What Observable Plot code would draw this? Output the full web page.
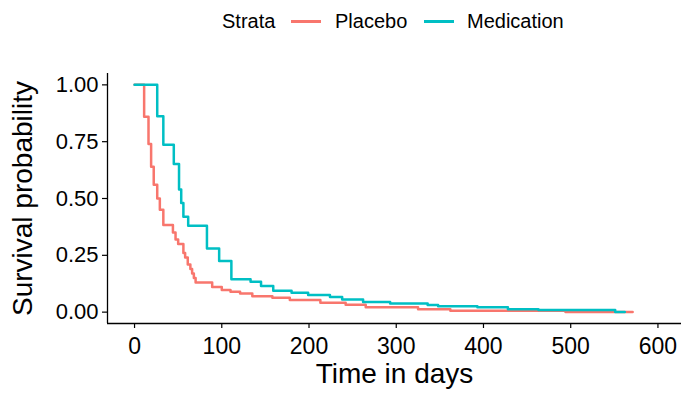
<!DOCTYPE html>
<html>
<head>
<meta charset="utf-8">
<script src="https://cdn.jsdelivr.net/npm/d3@7"></script>
<script src="https://cdn.jsdelivr.net/npm/@observablehq/plot@0.6"></script>
<style>
  html, body { margin: 0; padding: 0; background: #fff; }
  body { width: 681px; height: 398px; overflow: hidden; font-family: "Liberation Sans", Arial, sans-serif; }
  #legend { position: relative; width: 681px; height: 40px; font-size: 20px; color: #000; }
  #legend .t { position: absolute; top: 10px; line-height: 22px; white-space: nowrap; }
  #legend .k { position: absolute; top: 20px; width: 30px; height: 2.5px; }
  #chart svg { display: block; overflow: visible; }
</style>
</head>
<body>
<div id="legend"></div>
<div id="chart"></div>
<script>
// ---- data ----
const strataTitle = "Strata";
const groups = ["Placebo", "Medication"];
const colors = ["#F8766D", "#00BFC4"];

const placeboTime = [0, 11, 16, 19, 22, 26, 29, 33, 44, 47, 50, 56, 58, 61, 64, 66, 68, 70, 89, 100, 110, 121, 135, 158, 178, 213, 242, 265, 325, 362, 494, 571];
const placeboSurv = [1, 0.86, 0.74, 0.64, 0.56, 0.50, 0.45, 0.383, 0.35, 0.32, 0.30, 0.26, 0.24, 0.21, 0.19, 0.17, 0.15, 0.13, 0.111, 0.097, 0.09, 0.082, 0.07, 0.063, 0.053, 0.041, 0.032, 0.021, 0.013, 0.006, 0.001, 0.001];

const medTime = [0, 26, 33, 45, 51, 53.5, 56, 61.5, 83, 97, 111, 133, 145, 159, 180, 199, 224, 238, 262, 293, 336, 348, 393, 428, 463, 551, 562];
const medSurv = [1, 0.862, 0.737, 0.652, 0.54, 0.48, 0.42, 0.38, 0.28, 0.225, 0.145, 0.134, 0.115, 0.094, 0.085, 0.075, 0.067, 0.056, 0.045, 0.038, 0.031, 0.026, 0.021, 0.013, 0.009, 0.001, 0.001];

const xTicks = [0, 100, 200, 300, 400, 500, 600];
const yTicks = [0, 0.25, 0.5, 0.75, 1];
const xTitle = "Time in days";
const yTitle = "Survival probability";

// ---- build table ----
const rows = [];
placeboTime.forEach((t, i) => rows.push({group: groups[0], time: t, surv: placeboSurv[i]}));
medTime.forEach((t, i) => rows.push({group: groups[1], time: t, surv: medSurv[i]}));

const xDomain = [-31, 627];
const yDomain = [-0.05, 1.05];

const chart = Plot.plot({
  width: 681,
  height: 358,
  marginTop: 33,
  marginBottom: 75,
  marginLeft: 107,
  marginRight: 0,
  style: {fontFamily: "Liberation Sans, Arial, sans-serif", color: "#000", background: "#fff", overflow: "visible"},
  x: {domain: xDomain},
  y: {domain: yDomain},
  color: {domain: groups, range: colors},
  marks: [
    Plot.line(rows, {x: "time", y: "surv", z: "group", stroke: "group", curve: "step-after", strokeWidth: 2.5}),
    Plot.ruleX([xDomain[0]], {stroke: "#000", strokeWidth: 1.3}),
    Plot.ruleY([yDomain[0]], {stroke: "#000", strokeWidth: 1.3}),
    Plot.axisX({ticks: xTicks, tickSize: 5, tickPadding: 9, fontSize: 23, label: null, tickFormat: d3.format("d"), stroke: "#000", strokeWidth: 1.2}),
    Plot.axisY({ticks: yTicks, tickSize: 5, tickPadding: 4, fontSize: 22, label: null, tickFormat: d3.format(".2f"), stroke: "#000", strokeWidth: 1.2}),
    Plot.text([xTitle], {frameAnchor: "bottom", textAnchor: "middle", dy: 59, fontSize: 28, fill: "#000"}),
    Plot.text([yTitle], {frameAnchor: "left", textAnchor: "middle", rotate: -90, dx: -84, fontSize: 28, fill: "#000"})
  ]
});
document.getElementById("chart").appendChild(chart);

// ---- legend (above the svg) ----
const legend = d3.select("#legend");
legend.append("span").attr("class", "t").style("left", "222px").text(strataTitle);
const keyLeft = [291, 424];
const labelLeft = [335, 467];
groups.forEach((g, i) => {
  legend.append("span").attr("class", "k").style("left", keyLeft[i] + "px").style("background", colors[i]);
  legend.append("span").attr("class", "t").style("left", labelLeft[i] + "px").text(g);
});
</script>
</body>
</html>
